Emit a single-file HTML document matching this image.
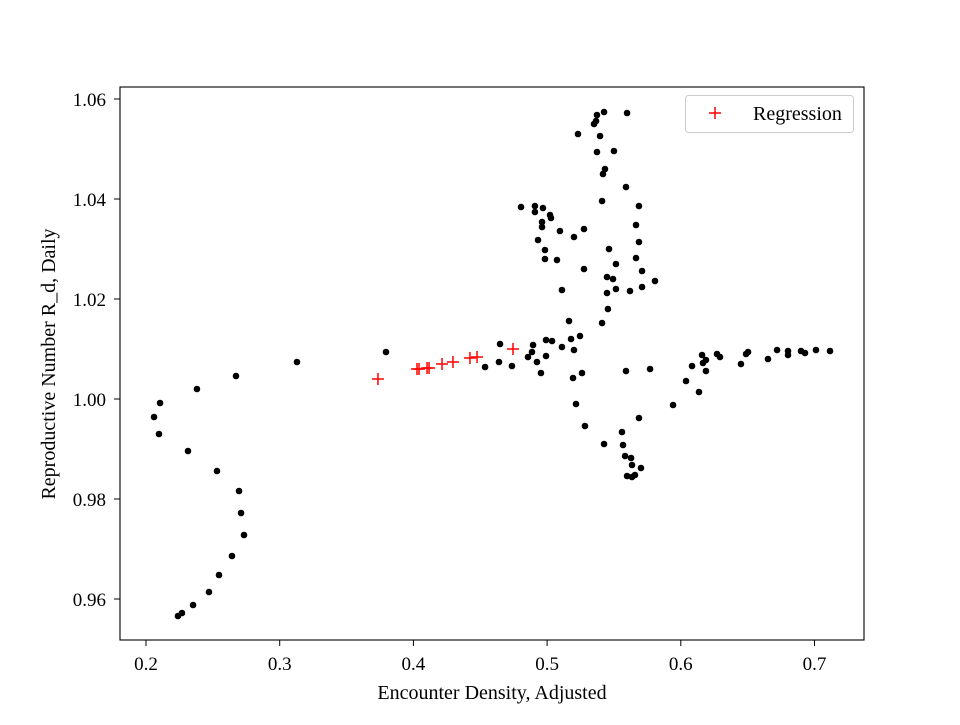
<!DOCTYPE html>
<html><head><meta charset="utf-8"><style>
body{margin:0;background:#fff}
text{font-family:"Liberation Serif",serif;fill:#000}
</style></head><body>
<svg id="chart" width="960" height="720" xmlns="http://www.w3.org/2000/svg">
<rect width="960" height="720" fill="#fff"/>
<g id="marks"></g>
<g id="axes"></g>
</svg>
<script>
const dataX=[0.5426,0.5598,0.5373,0.5366,0.5351,0.5231,0.5396,0.5373,0.5500,0.5433,0.5418,0.5590,0.5411,0.5687,0.4805,0.4909,0.4909,0.4969,0.5022,0.5029,0.4962,0.4962,0.5096,0.5276,0.5201,0.5665,0.4932,0.4984,0.4984,0.5074,0.5463,0.5687,0.5665,0.5276,0.5515,0.5710,0.5448,0.5493,0.5515,0.5448,0.5620,0.5710,0.5807,0.5111,
0.3795,0.4648,0.4640,0.4536,0.4737,0.4895,0.4887,0.4857,0.4924,0.4954,0.4992,0.5037,0.4992,0.5111,0.5179,0.5201,0.5246,0.5164,0.5411,0.5455,0.5194,0.5261,0.5216,0.5283,0.5426,0.5560,0.5568,0.5590,0.5770,0.5942,0.5687,0.5583,0.5628,0.5635,0.5702,0.5598,0.5635,0.5657,
0.6039,0.6136,0.6084,0.6159,0.6166,0.6188,0.6188,0.6271,0.6293,0.6450,0.6503,0.6488,0.6652,0.6720,0.6802,0.6802,0.6899,0.6929,0.7011,0.7116,
0.3129,0.2673,0.2381,0.2105,0.2060,0.2097,0.2314,0.2531,0.2696,0.2711,0.2733,0.2643,0.2546,0.2471,0.2352,0.2269,0.2239];
const dataY=[1.0574,1.0572,1.0568,1.0556,1.055,1.053,1.0526,1.0494,1.0496,1.046,1.045,1.0424,1.0396,1.0386,1.0384,1.0386,1.0374,1.0382,1.0368,1.0362,1.0354,1.0344,1.0336,1.034,1.0324,1.0348,1.0318,1.0298,1.028,1.0278,1.03,1.0314,1.0282,1.026,1.027,1.0256,1.0244,1.024,1.022,1.0212,1.0216,1.0224,1.0236,1.0218,
1.0094,1.011,1.0074,1.0064,1.0066,1.0108,1.0094,1.0084,1.0074,1.0052,1.0118,1.0116,1.0086,1.0104,1.012,1.0098,1.0126,1.0156,1.0152,1.018,1.0042,1.0052,0.999,0.9946,0.991,0.9934,0.9908,1.0056,1.006,0.9988,0.9962,0.9886,0.9882,0.9868,0.9862,0.9846,0.9844,0.9848,
1.0036,1.0014,1.0066,1.0088,1.0072,1.0078,1.0056,1.009,1.0084,1.007,1.0094,1.009,1.008,1.0098,1.0096,1.0088,1.0096,1.0092,1.0098,1.0096,
1.0074,1.0046,1.002,0.9992,0.9964,0.993,0.9896,0.9856,0.9816,0.9772,0.9728,0.9686,0.9648,0.9614,0.9588,0.9572,0.9566];
const regX=[0.3735,0.4027,0.4042,0.4102,0.4117,0.4214,0.4296,0.4423,0.4476,0.4745];
const regY=[1.004,1.006,1.006,1.0062,1.0062,1.007,1.0074,1.0082,1.0084,1.01];
const xTicks=[0.2,0.3,0.4,0.5,0.6,0.7];
const xTickLabels=["0.2","0.3","0.4","0.5","0.6","0.7"];
const yTicks=[0.96,0.98,1.00,1.02,1.04,1.06];
const yTickLabels=["0.96","0.98","1.00","1.02","1.04","1.06"];

const L=120,R=864,T=87,B=640;
const sx=v=>146+(v-0.2)*1337;
const sy=v=>399-(v-1.0)*5000;
const NS="http://www.w3.org/2000/svg";
const marks=document.getElementById('marks'), axes=document.getElementById('axes');
function mk(tag,attrs,parent){const e=document.createElementNS(NS,tag);for(const k in attrs)e.setAttribute(k,attrs[k]);parent.appendChild(e);return e;}

dataX.forEach((x,i)=>{
  const c=mk('circle',{cx:sx(x),cy:sy(dataY[i]),r:3.3,fill:'#000'},marks);
  
  
});
regX.forEach((x,i)=>{
  const g=mk('g',{},marks);
  
  
  const cx=sx(x),cy=sy(regY[i]);
  mk('line',{x1:cx-6,x2:cx+6,y1:cy,y2:cy,stroke:'#f00','stroke-width':1.5},g);
  mk('line',{x1:cx,x2:cx,y1:cy-6,y2:cy+6,stroke:'#f00','stroke-width':1.5},g);
});

const frame=mk('rect',{x:L,y:T,width:R-L,height:B-T,fill:'none',stroke:'#000','stroke-width':1.1},axes);



xTicks.forEach((v,i)=>{
  const x=sx(v);
  const t=mk('line',{x1:x,x2:x,y1:B,y2:B+6,stroke:'#000'},axes);
  
  
  const lb=mk('text',{x:x,y:670,'text-anchor':'middle','font-size':19},axes);
  lb.textContent=xTickLabels[i];
  
  
});
yTicks.forEach((v,i)=>{
  const y=sy(v);
  const t=mk('line',{x1:L-6,x2:L,y1:y,y2:y,stroke:'#000'},axes);
  
  
  const lb=mk('text',{x:L-14,y:y+7,'text-anchor':'end','font-size':19},axes);
  lb.textContent=yTickLabels[i];
  
  
});
</script>
<svg style="position:absolute;left:0;top:0" width="960" height="720" xmlns="http://www.w3.org/2000/svg">
<text x="492" y="699" text-anchor="middle" font-size="20">Encounter Density, Adjusted</text>
<text transform="translate(55,364) rotate(-90)" text-anchor="middle" font-size="20">Reproductive Number R_d, Daily</text>
<g>
<rect x="685.5" y="95.5" width="168" height="37" rx="3" fill="#fff" stroke="#ccc"/>
<line x1="709" x2="721" y1="113" y2="113" stroke="#f00" stroke-width="1.5"/>
<line x1="715" x2="715" y1="107" y2="119" stroke="#f00" stroke-width="1.5"/>
<text x="753" y="120" font-size="20">Regression</text>
</g>
</svg>
</body></html>
